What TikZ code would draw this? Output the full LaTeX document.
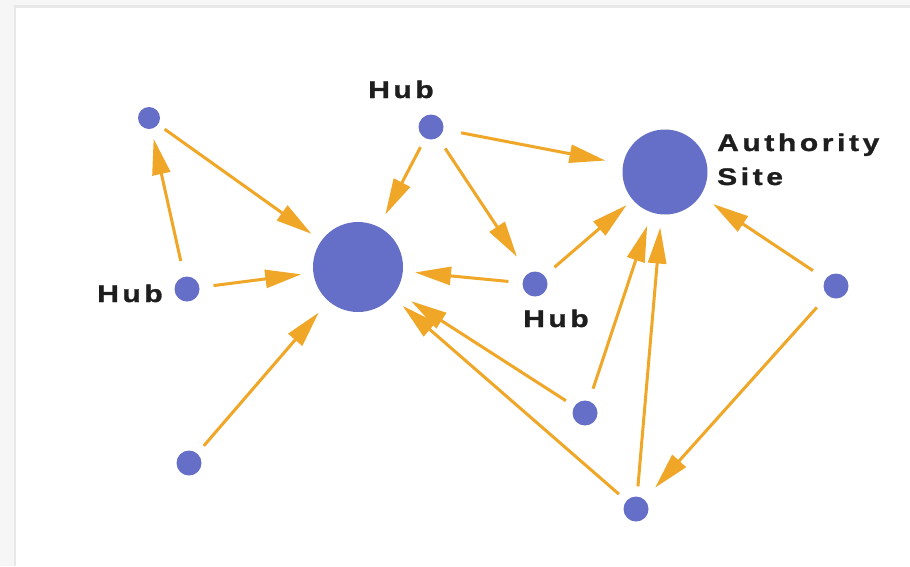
\documentclass[tikz,border=0pt]{standalone}
\usepackage{fontspec}
\setmainfont{Liberation Sans}
\newfontfamily\labelfont[LetterSpace=15,FakeStretch=1.25,BoldFeatures={FakeBold=1.2}]{Liberation Sans}
\usetikzlibrary{arrows.meta}
\definecolor{nodeblue}{RGB}{101,111,200}
\definecolor{arroworange}{RGB}{240,166,38}
\definecolor{frameouter}{RGB}{246,246,246}
\definecolor{frameline}{RGB}{232,232,232}
\definecolor{labelblack}{RGB}{30,30,30}
\begin{document}
\begin{tikzpicture}[x=1pt,y=-1pt,
  dot/.style={circle,fill=nodeblue,inner sep=0pt,minimum size=25pt},
  bigdot/.style={circle,fill=nodeblue,inner sep=0pt,minimum size=90pt},
  link/.style={draw=arroworange,line width=3pt,
    -{Triangle[length=36pt,width=18pt]},
    shorten <=11pt,shorten >=14pt},
  lbl/.style={font=\labelfont\bfseries\fontsize{24}{35}\selectfont,
    text=labelblack,inner sep=0pt,anchor=base west}]
\useasboundingbox (0,0) rectangle (910,566);
\fill[frameouter] (0,0) rectangle (910,566);
\fill[frameline] (14,5) rectangle (910,566);
\fill[white] (16,8) rectangle (910,566);

\node[dot,minimum size=22pt] (a) at (149,118) {};
\node[dot] (b) at (187,289) {};
\node[bigdot] (c) at (358,267) {};
\node[dot] (d) at (431,127) {};
\node[dot] (e) at (535,284) {};
\node[bigdot,minimum size=85pt] (f) at (665,172) {};
\node[dot] (g) at (836,286) {};
\node[dot] (h) at (585,413) {};
\node[dot] (i) at (189,463) {};
\node[dot] (j) at (636,509) {};

\node[lbl] (hubtop) at (368,98) {Hub};
\node[lbl] (hubleft) at (97,302) {Hub};
\node[lbl] (hubmid) at (523,327) {Hub};
\node[lbl] (auth1) at (717,151) {Authority};
\node[lbl] (auth2) at (717,185) {Site};

\draw[link,shorten <=16pt,shorten >=10pt] (b) -- (a);
\draw[link,shorten <=8pt,shorten >=12pt] (a) -- (c);
\draw[link,shorten <=14pt,shorten >=12pt] (b) -- (c);
\draw[link,shorten <=10pt,shorten >=14pt] (d) -- (c);
\draw[link,shorten <=13pt,shorten >=20pt] (d) -- (e);
\draw[link,shorten <=18pt,shorten >=18pt] (d) -- (f);
\draw[link,shorten <=14pt,shorten >=12pt] (e) -- (c);
\draw[link,shorten <=13pt,shorten >=8pt] (e) -- (f);
\draw[link,shorten <=15pt,shorten >=15pt] (g) -- (f);
\draw[link,shorten <=16pt,shorten >=16pt] (g) -- (j);
\draw[link,shorten <=10pt,shorten >=18pt] (h) -- (c);
\draw[link,shorten <=13pt,shorten >=14pt] (h) -- (f);
\draw[link,shorten <=10pt,shorten >=14pt] (j) -- (c);
\draw[link,shorten <=10pt,shorten >=13pt] (j) -- (f);
\draw[link,shorten <=10pt,shorten >=15pt] (i) -- (c);
\end{tikzpicture}
\end{document}
